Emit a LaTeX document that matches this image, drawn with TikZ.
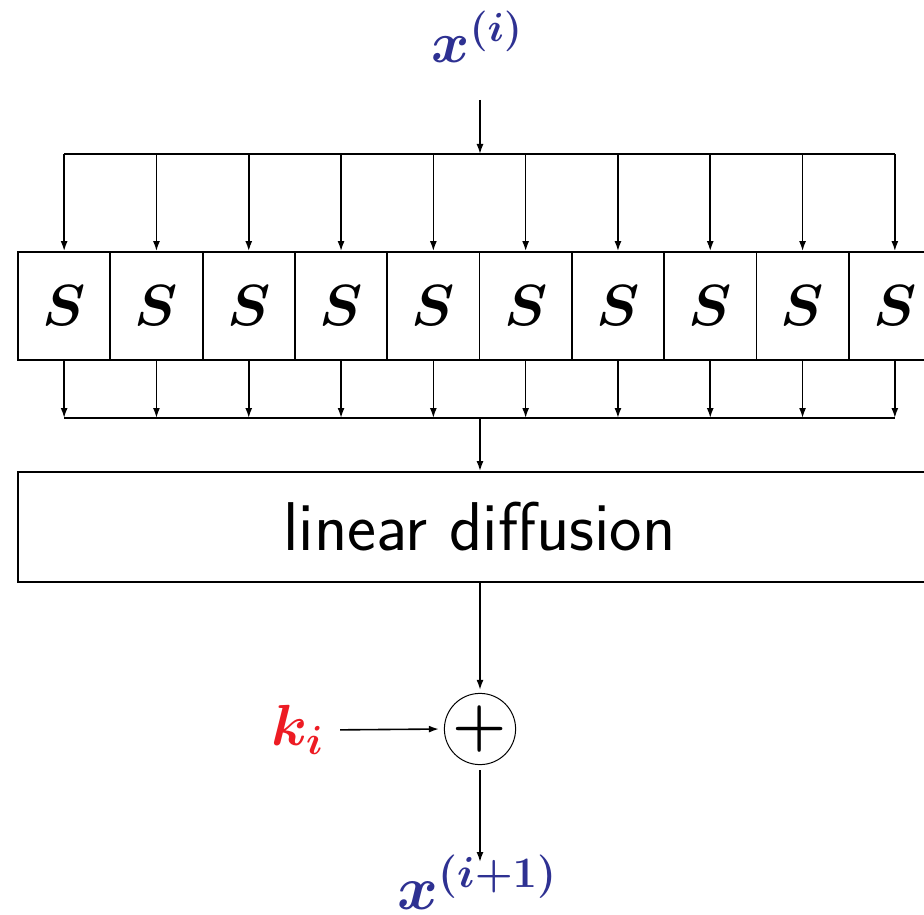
\RequirePackage{fix-cm}
\documentclass[tikz,border=0pt]{standalone}
\usepackage{amsmath,bm}
\usetikzlibrary{arrows.meta}
\definecolor{xblue}{RGB}{46,49,146}
\definecolor{kred}{RGB}{237,28,36}
\begin{document}
\begin{tikzpicture}[x=1pt,y=-1pt,
  bigfont/.style={font=\fontsize{58}{60}\selectfont},
  sbox/.style={draw,line width=1.8pt,minimum width=92.3pt,minimum height=108pt,inner sep=0pt,bigfont},
  conn/.style={line width=1.6pt,-{Latex[length=10pt,width=7pt]}},
  bus/.style={line width=1.8pt},
  lbl/.style={inner sep=0pt,bigfont}
]
\useasboundingbox (0,0) rectangle (924,915);
% S boxes
\foreach \k in {1,...,10}{
  \node[sbox] (S\k) at ({64.15+92.3*(\k-1)},306) {$\bm{S}$};
  \coordinate (T\k) at (S\k.north |- 0,154);
  \coordinate (B\k) at (S\k.south |- 0,418);
  \draw[conn] (T\k) -- (S\k.north);
  \draw[conn] (S\k.south) -- (B\k);
}
\draw[bus] (T1) -- (T10);
\draw[bus] (B1) -- (B10);
\coordinate (TC) at (480,154);
\coordinate (BC) at (480,418);
% input
\node[lbl,text=xblue] (xin) at (477,37) {$\bm{x^{(i)}}$};
\coordinate (xa) at (480,100);
\draw[conn] (xa) -- (TC);
% linear diffusion
\node[draw,line width=1.8pt,minimum width=923pt,minimum height=110pt,inner sep=0pt,
      font=\fontsize{69}{72}\selectfont\sffamily] (LD) at (479.5,527) {linear diffusion};
\draw[conn] (BC) -- (LD.north -| BC);
% xor
\node[circle,draw,line width=1pt,minimum size=64pt,inner sep=0pt,font=\fontsize{62}{64}\selectfont] (P) at (480,729) {$\bm{+}$};
\draw[conn,shorten >=3pt] (LD.south -| P.north) -- (P.north);
\node[lbl,text=kred] (k) at (297,730) {$\bm{k_i}$};
\draw[conn,shorten <=17pt,shorten >=5pt] (k.east) -- (P.west);
% output
\node[lbl,text=xblue,font=\fontsize{62}{64}\selectfont] (xout) at (477,882) {$\bm{x^{(i+1)}}$};
\coordinate (xo) at (480,862);
\draw[conn,shorten <=5pt] (P.south) -- (xo);
\end{tikzpicture}
\end{document}
